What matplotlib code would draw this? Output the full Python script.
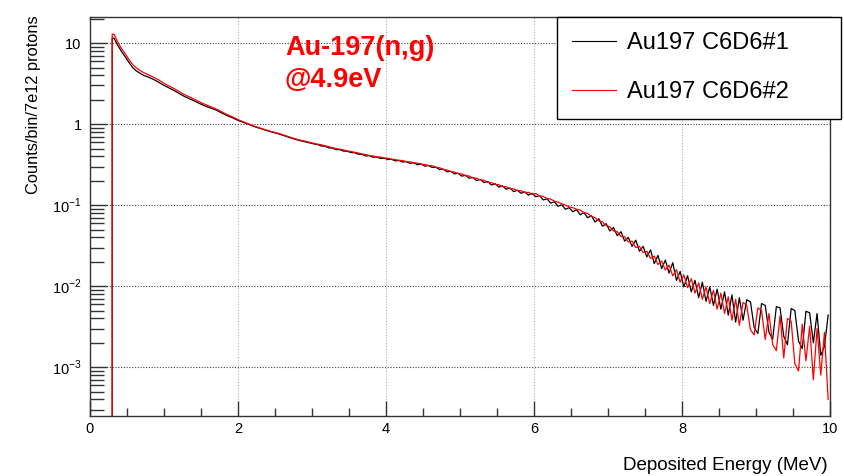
import numpy as np
import matplotlib
matplotlib.use("Agg")
import matplotlib.pyplot as plt
from matplotlib.lines import Line2D
from matplotlib.ticker import FixedLocator, FixedFormatter, MultipleLocator, LogLocator, NullFormatter

plt.rcParams['font.family'] = ['Liberation Sans', 'DejaVu Sans']
plt.rcParams['mathtext.fontset'] = 'custom'
plt.rcParams['mathtext.rm'] = 'Liberation Sans'

# Histogram binning (MeV): first edge and bin width
e_first = 0.3
e_last = 10.0
bin_width = 0.05

# Counts/bin/7e12 protons, C6D6 detector #1 (black)
counts_c6d6_1 = [
    11.5, 9.4, 7.9, 6.8, 5.8, 5.0, 4.55, 4.25, 4.0, 3.85,
    3.68, 3.5, 3.3, 3.1, 2.93, 2.78, 2.63, 2.48, 2.33, 2.2,
    2.1, 2.0, 1.9, 1.81, 1.72, 1.65, 1.59, 1.53, 1.46, 1.38,
    1.31, 1.25, 1.2, 1.14, 1.09, 1.05, 1.01, 0.97, 0.93, 0.9,
    0.87, 0.84, 0.815, 0.79, 0.77, 0.745, 0.72, 0.695, 0.67, 0.65,
    0.63, 0.615, 0.6, 0.585, 0.57, 0.56, 0.538, 0.533, 0.51, 0.505,
    0.486, 0.484, 0.465, 0.463, 0.447, 0.444, 0.425, 0.424, 0.405, 0.408,
    0.39, 0.393, 0.377, 0.38, 0.366, 0.368, 0.352, 0.356, 0.341, 0.344,
    0.328, 0.333, 0.316, 0.322, 0.303, 0.309, 0.292, 0.294, 0.275, 0.278,
    0.258, 0.262, 0.243, 0.248, 0.228, 0.234, 0.215, 0.22, 0.201, 0.208,
    0.19, 0.196, 0.177, 0.184, 0.167, 0.173, 0.157, 0.163, 0.147, 0.153,
    0.14, 0.146, 0.133, 0.14, 0.127, 0.131, 0.116, 0.12, 0.106, 0.11,
    0.097, 0.101, 0.089, 0.093, 0.083, 0.088, 0.076, 0.081, 0.07, 0.074,
    0.062, 0.068, 0.055, 0.059, 0.048, 0.053, 0.042, 0.047, 0.036, 0.04,
    0.031, 0.037, 0.027, 0.031, 0.023, 0.028, 0.019, 0.024, 0.0165, 0.021,
    0.0145, 0.0195, 0.0118, 0.0152, 0.0098, 0.0135, 0.0085, 0.0118, 0.0072, 0.0112,
    0.0065, 0.0098, 0.0058, 0.0092, 0.0052, 0.0085, 0.0044, 0.0078, 0.0036, 0.0072,
    0.0038, 0.0068, 0.0064, 0.0031, 0.0026, 0.0061, 0.0058, 0.0027, 0.0022, 0.0056,
    0.0054, 0.0024, 0.0019, 0.0053, 0.005, 0.0021, 0.0017, 0.0049, 0.0047, 0.002,
    0.0046, 0.0014, 0.0018, 0.0044,
]

# Counts/bin/7e12 protons, C6D6 detector #2 (red)
counts_c6d6_2 = [
    12.9, 10.3, 8.6, 7.4, 6.3, 5.45, 4.95, 4.6, 4.32, 4.12,
    3.93, 3.73, 3.52, 3.3, 3.1, 2.94, 2.78, 2.62, 2.46, 2.32,
    2.21, 2.1, 1.99, 1.89, 1.8, 1.72, 1.65, 1.58, 1.51, 1.43,
    1.35, 1.29, 1.23, 1.17, 1.11, 1.065, 1.025, 0.98, 0.94, 0.91,
    0.88, 0.85, 0.825, 0.8, 0.78, 0.755, 0.73, 0.705, 0.68, 0.66,
    0.64, 0.625, 0.61, 0.595, 0.58, 0.566, 0.556, 0.54, 0.528, 0.512,
    0.5, 0.49, 0.481, 0.468, 0.461, 0.449, 0.441, 0.428, 0.421, 0.411,
    0.405, 0.395, 0.392, 0.382, 0.379, 0.37, 0.366, 0.357, 0.355, 0.345,
    0.342, 0.334, 0.33, 0.32, 0.318, 0.308, 0.306, 0.294, 0.289, 0.276,
    0.271, 0.26, 0.256, 0.245, 0.243, 0.23, 0.229, 0.216, 0.215, 0.204,
    0.203, 0.191, 0.19, 0.18, 0.179, 0.169, 0.169, 0.16, 0.159, 0.151,
    0.151, 0.143, 0.144, 0.137, 0.139, 0.13, 0.128, 0.121, 0.119, 0.112,
    0.109, 0.104, 0.1, 0.095, 0.093, 0.089, 0.087, 0.081, 0.079, 0.073,
    0.07, 0.064, 0.062, 0.056, 0.054, 0.048, 0.047, 0.041, 0.041, 0.035,
    0.036, 0.03, 0.031, 0.026, 0.027, 0.022, 0.0235, 0.0185, 0.0205, 0.0158,
    0.0182, 0.0134, 0.016, 0.0112, 0.0138, 0.0096, 0.0124, 0.0082, 0.011, 0.0069,
    0.0098, 0.0061, 0.0089, 0.0052, 0.0082, 0.0046, 0.0074, 0.0038, 0.0069, 0.0033,
    0.0063, 0.0058, 0.0029, 0.0025, 0.0054, 0.005, 0.0022, 0.0046, 0.0019, 0.0016,
    0.0043, 0.0013, 0.004, 0.0037, 0.0011, 0.0009, 0.0034, 0.0012, 0.0032, 0.0007,
    0.003, 0.0008, 0.0027, 0.0004,
]

series_labels = ['Au197 C6D6#1', 'Au197 C6D6#2']
y_tick_values = [1e-3, 1e-2, 1e-1, 1, 10]
y_tick_labels = ['$10^{-3}$', '$10^{-2}$', '$10^{-1}$', '1', '10']

n_bins = len(counts_c6d6_1)
edges = np.linspace(e_first, e_last, n_bins + 1)
centres = 0.5 * (edges[:-1] + edges[1:])

y_min, y_max = 2.5e-4, 21.0

fig = plt.figure(figsize=(8.45, 4.76), dpi=100)
ax = fig.add_axes([90 / 845, 60 / 476, 740 / 845, 399 / 476])

# histogram drawn as a line through the bin contents, with the rising edge
# at the first filled bin like ROOT does
for counts, col in [(counts_c6d6_1, 'black'), (counts_c6d6_2, '#ff0000')]:
    xs = np.concatenate([[e_first, e_first], centres])
    ys = np.concatenate([[y_min, counts[0]], counts])
    ax.plot(xs, ys, color=col, lw=0.9)

ax.set_yscale('log')
ax.set_xlim(0, 10)
ax.set_ylim(y_min, y_max)

ax.yaxis.set_major_locator(FixedLocator(y_tick_values))
ax.yaxis.set_major_formatter(FixedFormatter(y_tick_labels))
ax.yaxis.set_minor_locator(LogLocator(base=10, subs=np.arange(2, 10)))
ax.yaxis.set_minor_formatter(NullFormatter())
ax.xaxis.set_major_locator(MultipleLocator(2))
ax.xaxis.set_minor_locator(MultipleLocator(0.5))

ax.tick_params(which='both', direction='in', top=False, right=False,
               colors='#333333', labelcolor='black', labelsize=10.5)
ax.tick_params(axis='y', which='major', length=12, width=1, pad=6)
ax.tick_params(axis='y', which='minor', length=10, width=1)
ax.tick_params(axis='x', which='major', length=11, width=1, pad=4)
ax.tick_params(axis='x', which='minor', length=6, width=1)

for s in ax.spines.values():
    s.set_color('#333333')
    s.set_linewidth(1)

# dotted ROOT style grid
ax.xaxis.grid(True, which='major', linestyle=(0, (1, 1.5)), color='#b0b0b0', lw=0.8)
ax.yaxis.grid(True, which='major', linestyle=(0, (1, 1.5)), color='#444444', lw=0.8)
ax.set_axisbelow(True)

ax.set_ylabel('Counts/bin/7e12 protons', fontsize=11.8)
ax.yaxis.set_label_coords(-0.066, 0.78)
ax.set_xlabel('Deposited Energy (MeV)', fontsize=13.5, ha='right', va='center')
ax.xaxis.set_label_coords(0.997, -0.123)

fig.text(285 / 845, 1 - 48 / 476, 'Au-197(n,g)', color='#ff0000', fontsize=19.5,
         fontweight='bold', ha='left', va='center')
fig.text(285 / 845, 1 - 80 / 476, '@4.9eV', color='#ff0000', fontsize=19.5,
         fontweight='bold', ha='left', va='center')

handles = [Line2D([], [], color='black', lw=0.8), Line2D([], [], color='#ff0000', lw=0.8)]
leg = fig.legend(handles, series_labels, loc='upper left',
                 bbox_to_anchor=(557 / 845, 1 - 117 / 476, 284 / 845, 100 / 476),
                 mode='expand', frameon=True, fancybox=False, edgecolor='black',
                 framealpha=1, fontsize=17, handlelength=1.85, handletextpad=0.45,
                 labelspacing=1.14, borderpad=0.65, borderaxespad=0)
leg.get_frame().set_linewidth(1)

fig.savefig('out.png', dpi=100)
